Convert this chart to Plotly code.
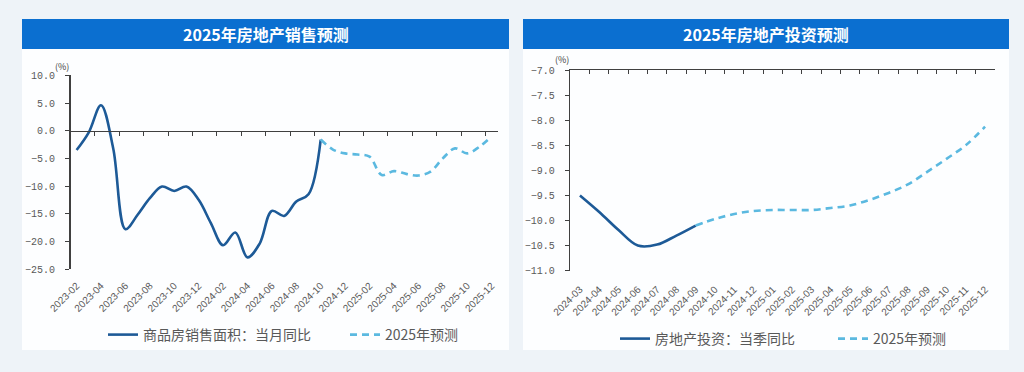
import plotly.graph_objects as go

# ---------------- data ----------------
sales_months = [f"{y}-{m:02d}" for y, m in
                [(2023, m) for m in range(2, 13)] + [(2024, m) for m in range(1, 13)] + [(2025, m) for m in range(1, 13)]]
sales_actual = [-3.5, -0.3, 4.6, -3.2, -17.8, -15.2, -12.2, -10.1, -10.9, -10.1, -12.5,
                -16.7, -20.7, -18.4, -22.9, -20.4, -14.5, -15.4, -12.8, -11.5, -1.6]
sales_forecast = [-1.6, -3.4, -4.1, -4.3, -4.7, -8.0, -7.3, -7.8, -8.1, -7.4, -5.0,
                  -3.2, -4.1, -2.9, -1.0]
sales_tick_labels = sales_months[::2]

inv_months = [f"{y}-{m:02d}" for y, m in
              [(2024, m) for m in range(3, 13)] + [(2025, m) for m in range(1, 13)]]
inv_actual = [-9.5, -9.83, -10.19, -10.5, -10.48, -10.3, -10.1]
inv_forecast = [-10.1, -9.97, -9.87, -9.81, -9.79, -9.79, -9.79, -9.75, -9.70, -9.59,
                -9.45, -9.28, -9.03, -8.77, -8.5, -8.13]

sales_name = "商品房销售面积：当月同比"
inv_name = "房地产投资：当季同比"
fc_name = "2025年预测"
title_left = "2025年房地产销售预测"
title_right = "2025年房地产投资预测"

# ---------------- style ----------------
W, H = 1024, 372
DARK = "#1d5a97"
LIGHT = "#5bb9e0"
BAR = "#0b6fd0"
PAGE = "#eef3f8"
GRAY = "#595959"
AXIS = "#404040"


def px(x):
    return x / W


def py(y):
    return 1 - y / H


fig = go.Figure()

fig.add_trace(go.Scatter(x=sales_months[:len(sales_actual)], y=sales_actual, name=sales_name,
                         mode="lines", line=dict(color=DARK, width=2.6, shape="spline"),
                         xaxis="x", yaxis="y", legend="legend", hoverinfo="skip"))
fig.add_trace(go.Scatter(x=sales_months[len(sales_actual) - 1:], y=sales_forecast, name=fc_name,
                         mode="lines", line=dict(color=LIGHT, width=2.6, shape="spline", dash="7px,5px"),
                         xaxis="x", yaxis="y", legend="legend2", hoverinfo="skip"))
fig.add_trace(go.Scatter(x=[], y=[], xaxis="x2", yaxis="y", showlegend=False, hoverinfo="skip"))

fig.add_trace(go.Scatter(x=inv_months[:len(inv_actual)], y=inv_actual, name=inv_name,
                         mode="lines", line=dict(color=DARK, width=2.6, shape="spline"),
                         xaxis="x3", yaxis="y3", legend="legend3", hoverinfo="skip"))
fig.add_trace(go.Scatter(x=inv_months[len(inv_actual) - 1:], y=inv_forecast, name=fc_name,
                         mode="lines", line=dict(color=LIGHT, width=2.6, shape="spline", dash="7px,5px"),
                         xaxis="x3", yaxis="y3", legend="legend4", hoverinfo="skip"))
fig.add_trace(go.Scatter(x=[], y=[], xaxis="x4", yaxis="y3", showlegend=False, hoverinfo="skip"))

# left geometry
L_x0, L_x1 = 70.5, 497.7
L_ytop, L_ybot = 75.4, 269.0
ymin_l, ymax_l = -25, 10
ydom_l = [py(L_ybot), py(L_ytop)]
zero_pos = ydom_l[0] + (0 - ymin_l) / (ymax_l - ymin_l) * (ydom_l[1] - ydom_l[0])
n_s = len(sales_months)

# right geometry
R_x0, R_x1 = 570.3, 994.7
R_ytop, R_ybot = 70.0, 270.7
n_i = len(inv_months)

tickfont_x = dict(family="Liberation Sans, Arial", size=10, color=GRAY)
tickfont_y = dict(family="Liberation Mono, monospace", size=10, color=GRAY)
legfont = dict(family="Noto Sans CJK SC", size=14, color=GRAY)


def leg(x, y):
    return dict(orientation="h", x=px(x), y=py(y), xanchor="left", yanchor="middle",
                bgcolor="rgba(0,0,0,0)", borderwidth=0, font=legfont, itemclick=False,
                itemdoubleclick=False)


fig.update_layout(
    template="none",
    width=W, height=H, autosize=False,
    margin=dict(l=0, r=0, t=0, b=0, pad=0),
    paper_bgcolor=PAGE, plot_bgcolor="rgba(0,0,0,0)",
    xaxis=dict(domain=[px(L_x0), px(L_x1)], anchor="y", type="category",
               range=[-0.5, n_s - 0.5], tickmode="array", tickvals=sales_tick_labels,
               ticktext=sales_tick_labels, tickangle=-45, ticks="", showline=False,
               showgrid=False, zeroline=False, tickfont=tickfont_x, automargin=False,
               ticklabelstandoff=8),
    xaxis2=dict(domain=[px(L_x0), px(L_x1)], overlaying="x", anchor="free", position=zero_pos,
                type="linear", range=[-0.5, n_s - 0.5],
                tickmode="array", tickvals=[i - 0.5 for i in range(0, n_s + 1, 2)],
                showticklabels=False, ticks="outside", ticklen=4, tickcolor=AXIS,
                showline=True, linecolor=AXIS, linewidth=1.2, showgrid=False, zeroline=False,
                automargin=False),
    yaxis=dict(domain=ydom_l, anchor="x", range=[ymin_l, ymax_l], dtick=5, tickformat=".1f",
               showline=True, linecolor=AXIS, linewidth=1.5, ticks="outside", ticklen=4,
               tickcolor=AXIS, showgrid=False, zeroline=False, tickfont=tickfont_y,
               ticklabelstandoff=8, automargin=False),
    xaxis3=dict(domain=[px(R_x0), px(R_x1)], anchor="y3", type="category",
                range=[-0.5, n_i - 0.5], tickmode="array", tickvals=inv_months,
                ticktext=inv_months, tickangle=-45, ticks="", showline=False,
                showgrid=False, zeroline=False, tickfont=tickfont_x, automargin=False,
                ticklabelstandoff=10),
    xaxis4=dict(domain=[px(R_x0), px(R_x1)], overlaying="x3", anchor="y3", side="top",
                type="linear", range=[-0.5, n_i - 0.5],
                tickmode="array", tickvals=[i - 0.5 for i in range(0, n_i + 1)],
                showticklabels=False, ticks="inside", ticklen=4, tickcolor=AXIS,
                showline=True, linecolor=AXIS, linewidth=1.5, showgrid=False, zeroline=False,
                automargin=False),
    yaxis3=dict(domain=[py(R_ybot), py(R_ytop)], anchor="x3", range=[-11, -7], dtick=0.5,
                tickformat=".1f", showline=True, linecolor=AXIS, linewidth=1.5,
                ticks="outside", ticklen=4, tickcolor=AXIS, showgrid=False, zeroline=False,
                tickfont=tickfont_y, ticklabelstandoff=8, automargin=False),
    legend=leg(103, 335),
    legend2=leg(345, 335),
    legend3=leg(615, 339),
    legend4=leg(833, 339),
    showlegend=True,
)

shapes = []
for (x0, x1) in [(22, 509), (523, 1009)]:
    shapes.append(dict(type="rect", xref="paper", yref="paper", x0=px(x0), x1=px(x1),
                       y0=py(350), y1=py(49), fillcolor="#fdfeff", line=dict(width=0), layer="below"))
    shapes.append(dict(type="rect", xref="paper", yref="paper", x0=px(x0), x1=px(x1),
                       y0=py(49), y1=py(19), fillcolor=BAR, line=dict(width=0), layer="below"))
fig.update_layout(shapes=shapes)

ann = [
    dict(text=f"<b>{title_left}</b>", x=px(265.5), y=py(34),
         font=dict(family="Noto Sans CJK SC", size=16, color="white")),
    dict(text=f"<b>{title_right}</b>", x=px(766), y=py(34),
         font=dict(family="Noto Sans CJK SC", size=16, color="white")),
    dict(text="(%)", x=px(62), y=py(66), font=dict(family="Noto Sans CJK SC", size=9, color=AXIS)),
    dict(text="(%)", x=px(562), y=py(60), font=dict(family="Noto Sans CJK SC", size=9, color=AXIS)),
]
for a in ann:
    a.update(xref="paper", yref="paper", showarrow=False, xanchor="center", yanchor="middle")
fig.update_layout(annotations=ann)

fig.write_html("out.html", config={"displayModeBar": False, "staticPlot": True},
               post_script="document.body.style.margin='0';")
